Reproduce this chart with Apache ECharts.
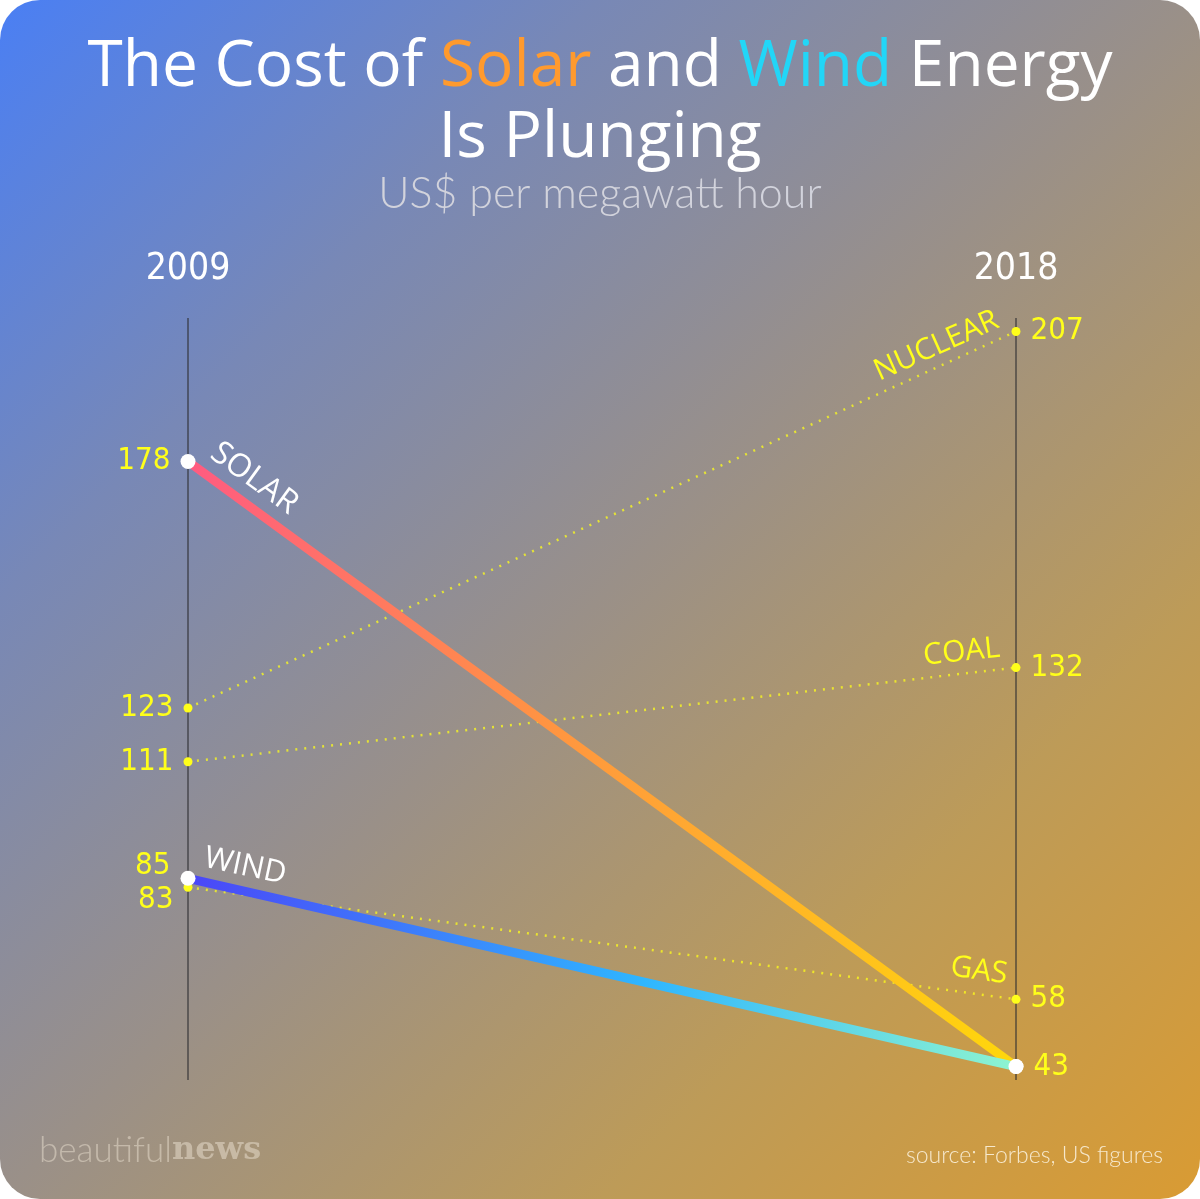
<!DOCTYPE html>
<html>
<head>
<meta charset="utf-8">
<script src="https://cdn.jsdelivr.net/npm/echarts@6/dist/echarts.min.js"></script>
<style>
  html, body { margin: 0; padding: 0; background: #fff; }
  #main { width: 1200px; height: 1199px; }
</style>
</head>
<body>
<div id="main"></div>
<script>
// data
const years = ['2009', '2018']
const solar = [178, 43]
const wind = [85, 43]
const nuclear = [123, 207]
const coal = [111, 132]
const gas = [83, 58]

// 'condensed' lands in the font shorthand as font-stretch
const narrow = "'DejaVu Sans', sans-serif"
const narrowW = 'condensed'
const sans = "'Open Sans', 'Noto Sans', sans-serif"
const yellow = '#ffff1a'

// value labels: left point on the left, right point on the right
function valueData (vals, opts) {
  opts = opts || {}
  return vals.map(function (v, i) {
    let lab = { position: i ? 'right' : 'left', distance: 10 }
    if (opts.hideRight && i === 1) { lab.show = false }
    if (opts.offsets && opts.offsets[i]) { lab.offset = opts.offsets[i] }
    return { value: v, label: lab }
  })
}

const valueLabel = { show: true, color: yellow, fontFamily: narrow, fontWeight: narrowW, fontSize: 31 }

// the series name written along its line
function nameMark (text, idx, vals, color, rotate, align, offset, size) {
  return {
    symbol: 'circle',
    symbolSize: 1,
    silent: true,
    itemStyle: { color: 'rgba(0,0,0,0)' },
    data: [{
      coord: [idx, vals[idx]],
      label: {
        show: true,
        formatter: text,
        position: 'inside',
        align: align,
        verticalAlign: 'bottom',
        rotate: rotate,
        offset: offset,
        color: color,
        fontFamily: sans,
        fontSize: size || 30
      }
    }]
  }
}

function fossil (name, vals, rotate, offset, opts) {
  return {
    name: name,
    type: 'line',
    z: 2,
    data: valueData(vals, opts),
    symbol: 'circle',
    symbolSize: 9,
    itemStyle: { color: yellow },
    lineStyle: { color: yellow, width: 2.5, type: [2, 7], opacity: 0.75 },
    label: valueLabel,
    markPoint: nameMark(name.toUpperCase(), 1, vals, yellow, rotate, 'right', offset),
    animation: false
  }
}

let chart = echarts.init(document.getElementById('main'))
chart.setOption({
  backgroundColor: '#fff',
  graphic: [{
    type: 'rect',
    z: -100,
    silent: true,
    shape: { x: 0, y: 0, width: 1200, height: 1199, r: 40 },
    style: {
      fill: new echarts.graphic.LinearGradient(0, 0, 1, 1, [
        { offset: 0, color: '#4a7ff4' },
        { offset: 0.25, color: '#7888b6' },
        { offset: 0.5, color: '#9a9088' },
        { offset: 0.75, color: '#bd9b58' },
        { offset: 1, color: '#d99b33' }
      ])
    }
  }],
  title: [{
    left: 'center',
    top: 27,
    text: '{w|The Cost of }{s|Solar}{w| and }{n|Wind}{w| Energy}\n{w|Is Plunging}',
    textStyle: {
      rich: {
        w: { color: '#fff', fontFamily: sans, fontWeight: 400, fontSize: 64, lineHeight: 71 },
        s: { color: '#ff9a2e', fontFamily: sans, fontWeight: 400, fontSize: 64, lineHeight: 71 },
        n: { color: '#22d6f7', fontFamily: sans, fontWeight: 400, fontSize: 64, lineHeight: 71 }
      }
    }
  }, {
    left: 'center',
    top: 168,
    text: 'US$ per megawatt hour',
    textStyle: { color: '#d2d3dc', fontFamily: "'Lato', 'Open Sans', sans-serif", fontWeight: 300, fontSize: 43 }
  }, {
    left: 34,
    top: 1128,
    text: '{a|beautiful}{b|news}',
    textStyle: {
      rich: {
        a: { color: 'rgba(235,225,210,0.5)', fontFamily: "'Lato', sans-serif", fontWeight: 300, fontSize: 35 },
        b: { color: 'rgba(235,225,210,0.5)', fontFamily: "'DejaVu Serif', serif", fontWeight: 'bold', fontSize: 32 }
      }
    }
  }, {
    right: 32,
    top: 1139,
    text: 'source: Forbes, US figures',
    textStyle: { color: '#f6e8cc', fontFamily: "'Lato', sans-serif", fontWeight: 300, fontSize: 23 }
  }],
  grid: { left: 188, right: 184, top: 318, bottom: 119, outerBoundsMode: 'none' },
  xAxis: {
    type: 'category',
    data: years,
    boundaryGap: false,
    position: 'top',
    axisLine: { show: false },
    axisTick: { show: false },
    axisLabel: { color: '#fff', fontFamily: narrow, fontWeight: narrowW, fontSize: 37, margin: 30 },
    splitLine: { show: true, lineStyle: { color: 'rgba(45,45,50,0.55)', width: 2 } }
  },
  yAxis: { type: 'value', min: 40, max: 210, show: false },
  series: [
    fossil('Nuclear', nuclear, 24, [-12, -4]),
    fossil('Coal', coal, 6, [-14, -6]),
    fossil('Gas', gas, -8, [-12, -8], { offsets: [[0, 13], null] }),
    {
      name: 'Solar',
      type: 'line',
      z: 4,
      data: valueData(solar),
      symbol: 'circle',
      symbolSize: 15,
      itemStyle: { color: '#fff' },
      lineStyle: {
        width: 9,
        color: new echarts.graphic.LinearGradient(0, 0, 1, 0, [
          { offset: 0, color: '#ff5a82' },
          { offset: 0.45, color: '#ff9640' },
          { offset: 1, color: '#ffd80a' }
        ])
      },
      label: valueLabel,
      markPoint: nameMark('SOLAR', 0, solar, '#fff', -36, 'left', [14, -9], 32),
      animation: false
    },
    {
      name: 'Wind',
      type: 'line',
      z: 5,
      data: valueData(wind, { hideRight: true, offsets: [[0, -12], null] }),
      symbol: 'circle',
      symbolSize: 15,
      itemStyle: { color: '#fff' },
      lineStyle: {
        width: 9,
        color: new echarts.graphic.LinearGradient(0, 0, 1, 0, [
          { offset: 0, color: '#4b45f7' },
          { offset: 0.55, color: '#2fb6ff' },
          { offset: 1, color: '#8ff5cf' }
        ])
      },
      label: valueLabel,
      markPoint: nameMark('WIND', 0, wind, '#fff', -12, 'left', [12, -8], 31),
      animation: false
    }
  ]
})
</script>
</body>
</html>
